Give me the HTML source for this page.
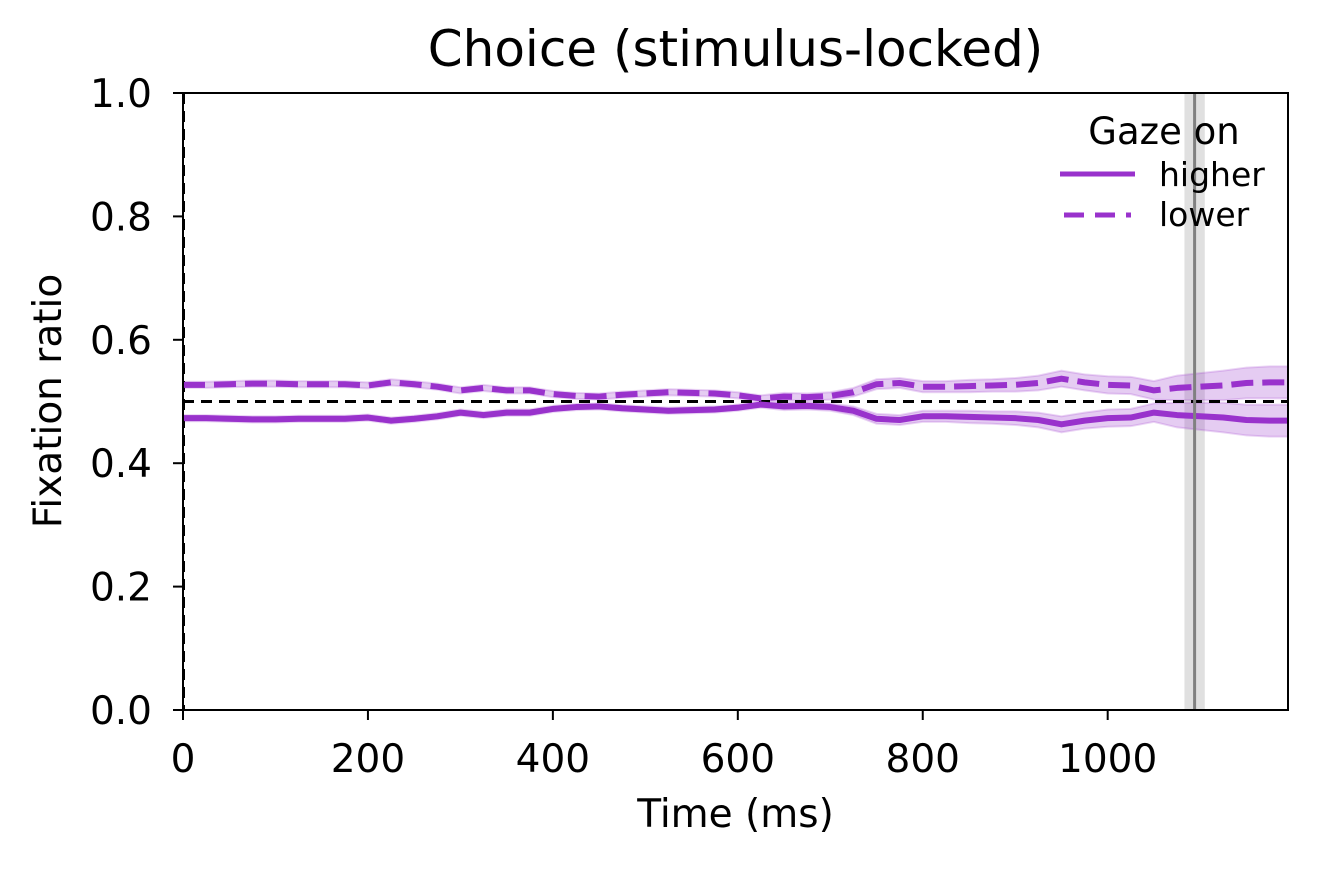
<!DOCTYPE html>
<html><head><meta charset="utf-8"><style>
body{margin:0;background:#fff;}
svg text{font-family:"DejaVu Sans","Liberation Sans",sans-serif;fill:#000;}
</style></head><body>
<svg id="chart" width="1317" height="867" viewBox="0 0 1317 867" xmlns="http://www.w3.org/2000/svg">
<g id="plot"></g>
</svg>
<script>
const times=[0,25,50,75,100,125,150,175,200,225,250,275,300,325,350,375,400,425,450,475,500,525,550,575,600,625,650,675,700,725,750,775,800,825,850,875,900,925,950,975,1000,1025,1050,1075,1100,1125,1150,1175,1195];
const lowerVals=[0.527,0.527,0.528,0.529,0.529,0.528,0.528,0.528,0.526,0.531,0.528,0.524,0.518,0.522,0.518,0.518,0.512,0.509,0.508,0.511,0.513,0.515,0.514,0.513,0.510,0.505,0.508,0.507,0.509,0.515,0.528,0.530,0.524,0.524,0.525,0.526,0.527,0.530,0.537,0.531,0.527,0.526,0.518,0.522,0.524,0.526,0.530,0.531,0.531];
const higherVals=lowerVals.map(v=>+(1-v).toFixed(3));
const bandHalf=[0.005,0.005,0.005,0.005,0.005,0.005,0.005,0.005,0.005,0.005,0.005,0.005,0.005,0.005,0.005,0.005,0.005,0.005,0.005,0.005,0.005,0.005,0.005,0.005,0.005,0.005,0.006,0.006,0.006,0.007,0.008,0.008,0.009,0.009,0.010,0.010,0.011,0.012,0.013,0.013,0.014,0.014,0.015,0.020,0.022,0.024,0.025,0.026,0.026];
const xTicks=[0,200,400,600,800,1000];
const yTicks=[0.0,0.2,0.4,0.6,0.8,1.0];
const rtTime=1094, rtLo=1083, rtHi=1105;

const X0=183,X1=1288,Y0=710,Y1=93,xmax=1195;
const xs=t=>X0+(X1-X0)*t/xmax;
const ys=v=>Y0-(Y0-Y1)*v;
const g=document.getElementById('plot');
const NS='http://www.w3.org/2000/svg';
function mk(tag,attrs,parent){const e=document.createElementNS(NS,tag);for(const k in attrs)e.setAttribute(k,attrs[k]);(parent||g).appendChild(e);return e;}

const defs=mk('defs',{});const cp=mk('clipPath',{id:'clip'},defs);mk('rect',{x:X0,y:Y1,width:X1-X0,height:Y0-Y1},cp);
const inner=mk('g',{'clip-path':'url(#clip)'});

let e=mk('rect',{x:xs(rtLo),y:Y1,width:xs(rtHi)-xs(rtLo),height:Y0-Y1,fill:'#000','fill-opacity':0.12},inner);


function band(vals,name){
  let up=times.map((t,i)=>xs(t)+','+ys(vals[i]+bandHalf[i]));
  let dn=times.map((t,i)=>xs(t)+','+ys(vals[i]-bandHalf[i])).reverse();
  const p=mk('polygon',{points:up.concat(dn).join(' '),fill:'#9932CC','fill-opacity':0.25,stroke:'#9932CC','stroke-opacity':0.2,'stroke-width':2},inner);
  
}
band(higherVals,'higher-ci-band');band(lowerVals,'lower-ci-band');

e=mk('line',{x1:X0,x2:X1,y1:ys(0.5),y2:ys(0.5),stroke:'#000','stroke-width':3,'stroke-dasharray':'11 7'},inner);

e=mk('line',{x1:xs(0)+1,x2:xs(0)+1,y1:Y1,y2:Y0,stroke:'#000','stroke-width':2,'stroke-dasharray':'11 7'},inner);


function line(vals,name,dash){
  const pts=times.map((t,i)=>xs(t)+','+ys(vals[i])).join(' ');
  const a={points:pts,fill:'none',stroke:'#9932CC','stroke-width':6,'stroke-linejoin':'round'};
  if(dash)a['stroke-dasharray']='22 9';
  const p=mk('polyline',a,inner);
  
}
line(higherVals,'higher-line',false);line(lowerVals,'lower-line',true);

e=mk('line',{x1:xs(rtTime),x2:xs(rtTime),y1:Y1,y2:Y0,stroke:'#808080','stroke-width':3},inner);


e=mk('rect',{x:X0,y:Y1,width:X1-X0,height:Y0-Y1,fill:'none',stroke:'#000','stroke-width':2});


xTicks.forEach(t=>{
  const x=xs(t);
  mk('line',{x1:x,x2:x,y1:Y0,y2:Y0+10,stroke:'#000','stroke-width':2});
  const tx=mk('text',{x:x,y:772,'text-anchor':'middle','font-size':39});tx.textContent=t;
  
});
yTicks.forEach(v=>{
  const y=ys(v);
  mk('line',{x1:X0-10,x2:X0,y1:y,y2:y,stroke:'#000','stroke-width':2});
  const tx=mk('text',{x:152,y:y+14,'text-anchor':'end','font-size':39});tx.textContent=v.toFixed(1);
  
});
let t=mk('text',{x:(X0+X1)/2,y:66,'text-anchor':'middle','font-size':50});t.textContent='Choice (stimulus-locked)';

t=mk('text',{x:(X0+X1)/2,y:827,'text-anchor':'middle','font-size':39});t.textContent='Time (ms)';

t=mk('text',{x:0,y:0,'text-anchor':'middle','font-size':39,transform:'translate(61,401) rotate(-90)'});t.textContent='Fixation ratio';


const lg=mk('g',{});

t=mk('text',{x:1164,y:144,'text-anchor':'middle','font-size':37},lg);t.textContent='Gaze on';

mk('line',{x1:1060,x2:1135,y1:174,y2:174,stroke:'#9932CC','stroke-width':5},lg);
t=mk('text',{x:1159,y:186,'font-size':33},lg);t.textContent='higher';

mk('line',{x1:1064,x2:1131,y1:215,y2:215,stroke:'#9932CC','stroke-width':5,'stroke-dasharray':'20 11'},lg);
t=mk('text',{x:1159,y:226,'font-size':33},lg);t.textContent='lower';

</script>
</body></html>
